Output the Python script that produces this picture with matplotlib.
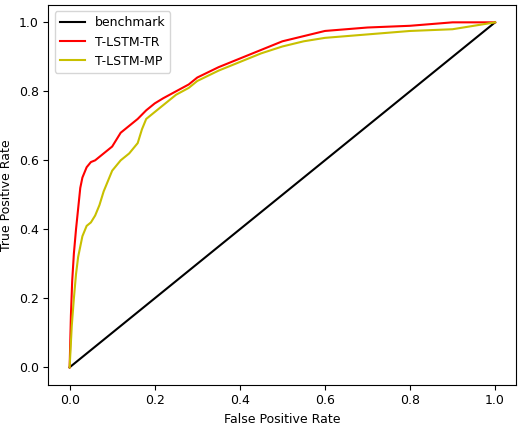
import matplotlib
matplotlib.use("Agg")
import matplotlib.pyplot as plt

# ROC points
fpr_tr = [0, 0.003, 0.006, 0.01, 0.015, 0.02, 0.025, 0.03, 0.04, 0.05, 0.06, 0.08, 0.1, 0.11, 0.12,
          0.14, 0.16, 0.18, 0.2, 0.22, 0.25, 0.28, 0.3, 0.35, 0.4, 0.45, 0.5, 0.55, 0.6, 0.65,
          0.7, 0.8, 0.9, 1.0]
tpr_tr = [0, 0.15, 0.25, 0.33, 0.40, 0.46, 0.52, 0.55, 0.58, 0.595, 0.60, 0.62, 0.64, 0.66, 0.68,
          0.70, 0.72, 0.745, 0.765, 0.78, 0.80, 0.82, 0.84, 0.87, 0.895, 0.92, 0.945, 0.96, 0.975, 0.98,
          0.985, 0.99, 1.0, 1.0]
fpr_mp = [0, 0.005, 0.01, 0.015, 0.02, 0.03, 0.04, 0.05, 0.06, 0.07, 0.08, 0.09, 0.1, 0.12, 0.14,
          0.16, 0.17, 0.18, 0.2, 0.22, 0.25, 0.28, 0.3, 0.35, 0.4, 0.45, 0.5, 0.55, 0.6, 0.7,
          0.8, 0.9, 0.95, 1.0]
tpr_mp = [0, 0.12, 0.2, 0.27, 0.32, 0.38, 0.41, 0.42, 0.44, 0.47, 0.51, 0.54, 0.57, 0.60, 0.62,
          0.65, 0.69, 0.72, 0.74, 0.76, 0.79, 0.81, 0.83, 0.86, 0.885, 0.91, 0.93, 0.945, 0.955, 0.965,
          0.975, 0.98, 0.99, 1.0]

plt.rcParams["font.size"] = 9
fig, ax = plt.subplots(figsize=(5.2, 4.24), dpi=100)
ax.plot([0, 1], [0, 1], color="black", label="benchmark")
ax.plot(fpr_tr, tpr_tr, color="red", label="T-LSTM-TR")
ax.plot(fpr_mp, tpr_mp, color="#c8c000", label="T-LSTM-MP")
ax.set_xlabel("False Positive Rate")
ax.set_ylabel("True Positive Rate")
ax.legend(loc="upper left")
fig.subplots_adjust(left=0.093, right=0.993, top=0.988, bottom=0.093)
fig.savefig("out.png")
